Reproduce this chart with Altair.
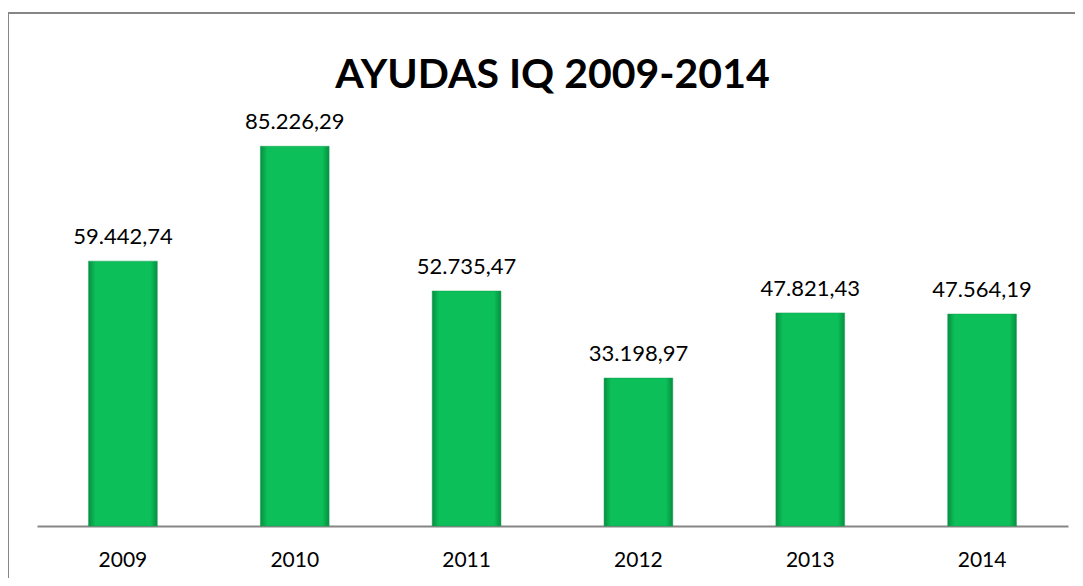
import altair as alt
import pandas as pd

years = ["2009", "2010", "2011", "2012", "2013", "2014"]
values = [59442.74, 85226.29, 52735.47, 33198.97, 47821.43, 47564.19]
title_text = "AYUDAS IQ 2009-2014"

df = pd.DataFrame({"year": years, "value": values})

FONT = "Lato"
W, H = 1031, 401

x = alt.X("year:N", sort=years,
          scale=alt.Scale(paddingInner=0.6, paddingOuter=0.3),
          axis=alt.Axis(title=None, labelAngle=0, labelFont=FONT, labelFontSize=21,
                        labelColor="#000000", labelPadding=23, ticks=False,
                        domainColor="#868686", domainWidth=2, grid=False))
y = alt.Y("value:Q", scale=alt.Scale(domain=[0, 90000], nice=False), axis=None)

base = alt.Chart(df).encode(x=x, y=y)

bars = base.mark_bar(
    color=alt.Gradient(
        gradient="linear", x1=0, x2=1, y1=0, y2=0,
        stops=[alt.GradientStop(color="#078f40", offset=0),
               alt.GradientStop(color="#0cbf59", offset=0.1),
               alt.GradientStop(color="#0cbf59", offset=0.9),
               alt.GradientStop(color="#078f40", offset=1)]),
    stroke="#10a050", strokeWidth=0.5
)

labels = base.transform_calculate(
    lbl="replace(replace(replace(format(datum.value, ',.2f'), ',', '_'), '.', ','), '_', '.')"
).mark_text(font=FONT, fontSize=22, color="#000000", baseline="alphabetic", dy=-17).encode(
    text="lbl:N"
)

title = alt.Chart(pd.DataFrame({"t": [title_text]})).mark_text(
    font=FONT, fontSize=41, fontWeight="bold", color="#000000",
    baseline="alphabetic", align="center"
).encode(x=alt.value(W / 2), y=alt.value(-37), text="t:N")

border_top = alt.Chart(df).mark_rule(color="#868686", strokeWidth=1.5).encode(
    x=alt.value(-29), x2=alt.value(1060), y=alt.value(-112)
)
border_left = alt.Chart(df).mark_rule(color="#868686", strokeWidth=1.5).encode(
    x=alt.value(-29), y=alt.value(-112), y2=alt.value(470)
)

chart = alt.layer(border_top, border_left, bars, labels, title).properties(
    width=W, height=H,
    autosize=alt.AutoSizeParams(type="none"),
    padding={"left": 29, "top": 117, "right": 7, "bottom": 52},
).configure_view(stroke=None)

chart.save("out.html", embed_options={"renderer": "svg", "actions": False})
